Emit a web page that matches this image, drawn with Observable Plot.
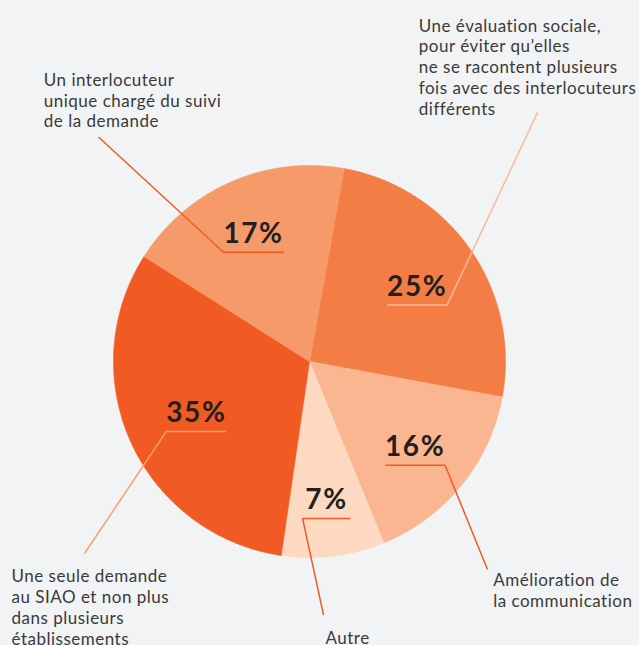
<!DOCTYPE html>
<html><head><meta charset="utf-8">
<script src="https://cdn.jsdelivr.net/npm/d3@7"></script>
<script src="https://cdn.jsdelivr.net/npm/@observablehq/plot@0.6"></script>
<style>
html,body{margin:0;padding:0;background:#F2F3F5;}
#chart{width:639px;height:645px;overflow:hidden;}
</style></head><body><div id="chart"></div>
<script>
// ---- data (clockwise from the top) ----
const categories = [
  "Une évaluation sociale,\npour éviter qu’elles\nne se racontent plusieurs\nfois avec des interlocuteurs\ndifférents",
  "Amélioration de\nla communication",
  "Autre",
  "Une seule demande\nau SIAO et non plus\ndans plusieurs\nétablissements",
  "Un interlocuteur\nunique chargé du suivi\nde la demande"
];
// slice sizes as drawn in the picture (share of the circle, %)
const shares = [25.1, 15.9, 8.5, 31.7, 18.8];
// printed labels
const percentLabels = ["25%", "16%", "7%", "35%", "17%"];
const sliceColors = ["#F47D45", "#FAB690", "#FDD9C1", "#F15A22", "#F79A69"];
const leaderColors = ["#FBB894", "#F15A24", "#F15A24", "#F9A070", "#F15A24"];

// ---- layout (chart units = px, origin at the pie centre, y up) ----
const R = 196;
const startDeg = 10.1;
const labelRadius = [131, 136, 140, 124.5, 139];
const underlineDrop = 18;
const leaderSide = ["right", "right", "left", "left", "left"];
const leaderEnd = [[228, 249], [178, -208], [14, -253.5], [-225, -192], [-211, 224.5]];
const textPos = [[109.3, 344.7], [183.7, -209.7], [16, -268], [-298, -206], [-265.7, 290.4]];

const a0 = startDeg * Math.PI / 180;
const arcs = d3.pie().sort(null).startAngle(a0).endAngle(a0 + 2 * Math.PI)(shares);

const slicePts = arcs.map((a, i) => {
  const pts = [{x: 0, y: 0, k: i}];
  const n = Math.max(2, Math.ceil((a.endAngle - a.startAngle) / (Math.PI / 360)));
  for (let j = 0; j <= n; j++) {
    const t = a.startAngle + (a.endAngle - a.startAngle) * j / n;
    pts.push({x: R * Math.sin(t), y: R * Math.cos(t), k: i});
  }
  return pts;
});

const pct = arcs.map((a, i) => {
  const m = (a.startAngle + a.endAngle) / 2;
  return {x: labelRadius[i] * Math.sin(m), y: labelRadius[i] * Math.cos(m), text: percentLabels[i]};
});

const leaders = pct.map((p, i) => {
  const hw = p.text.length * 10 + (p.text.length < 3 ? 4 : 0);
  const uy = p.y - underlineDrop;
  const l = p.x - hw, r = p.x + hw;
  const pts = leaderSide[i] === "right"
    ? [{x: l, y: uy}, {x: r, y: uy}, {x: leaderEnd[i][0], y: leaderEnd[i][1]}]
    : [{x: r, y: uy}, {x: l, y: uy}, {x: leaderEnd[i][0], y: leaderEnd[i][1]}];
  return pts;
});

const catText = categories.map((c, i) => ({x: textPos[i][0], y: textPos[i][1], text: c}));

const marks = [
  ...slicePts.map((pts, i) => Plot.line(pts, {x: "x", y: "y", curve: "linear-closed",
      fill: sliceColors[i], stroke: sliceColors[i], strokeWidth: 0.6})),
  ...leaders.map((pts, i) => Plot.line(pts, {x: "x", y: "y", stroke: leaderColors[i],
      strokeWidth: 1.5, strokeLinecap: "butt", strokeLinejoin: "miter"})),
  Plot.text(pct, {x: "x", y: "y", text: "text", fontSize: 28, fontWeight: 700,
      fill: "#231F20", fontFamily: "Lato"}),
  Plot.text(catText, {x: "x", y: "y", text: "text", textAnchor: "start", lineAnchor: "top",
      lineHeight: 20.8 / 17, fontSize: 17, fill: "#3a3a3a", fontFamily: "Lato"})
];

const chart = Plot.plot({
  width: 639, height: 645, margin: 0,
  x: {domain: [-309, 330], axis: null},
  y: {domain: [-284, 361], axis: null},
  style: {background: "#F2F3F5", fontFamily: "Lato", overflow: "hidden"},
  marks
});
// widen letter spacing to approach the reference typeface's width
d3.select(chart).selectAll("g").each(function () {
  const fs = this.getAttribute("font-size");
  if (fs === "28") this.style.letterSpacing = "1.6px";
  else if (fs === "17") this.style.letterSpacing = "0.5px";
});
document.getElementById("chart").append(chart);
</script></body></html>
